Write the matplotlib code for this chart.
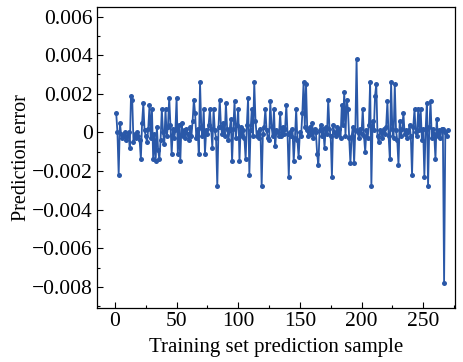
import matplotlib
matplotlib.use("Agg")
import matplotlib.pyplot as plt
from matplotlib.ticker import MultipleLocator, FuncFormatter

# Ошибка прогноза на обучающей выборке
errors = [
    0.0010, 0.0000, -0.0022, 0.0005, -0.0001, -0.0003, -0.0002, 0.0000, -0.0004, -0.0002,
    0.0000, -0.0008, 0.0019, 0.0017, -0.0005, -0.0001, -0.0003, 0.0000, -0.0002, -0.0004,
    -0.0014, 0.0005, 0.0015, 0.0001, -0.0002, -0.0005, 0.0002, 0.0014, -0.0003, 0.0012,
    -0.0014, -0.0001, -0.0015, 0.0003, -0.0009, -0.0014, -0.0004, 0.0012, 0.0000, -0.0006,
    0.0012, -0.0002, 0.0003, 0.0018, 0.0004, -0.0011, 0.0002, -0.0003, 0.0001, 0.0018,
    -0.0011, 0.0004, -0.0015, 0.0005, -0.0002, 0.0001, -0.0003, 0.0002, -0.0001, -0.0004,
    0.0003, -0.0002, 0.0006, 0.0017, 0.0010, -0.0003, 0.0002, -0.0011, 0.0026, 0.0003,
    -0.0002, 0.0012, -0.0011, 0.0001, -0.0001, 0.0004, 0.0012, 0.0002, -0.0008, 0.0012,
    0.0001, -0.0003, -0.0028, 0.0003, 0.0017, 0.0003, -0.0001, 0.0005, -0.0002, 0.0015,
    0.0002, -0.0004, 0.0001, 0.0007, -0.0015, 0.0002, 0.0016, -0.0003, 0.0004, 0.0012,
    -0.0015, 0.0003, -0.0002, 0.0001, -0.0003, -0.0014, 0.0004, 0.0018, -0.0022, 0.0001,
    0.0012, -0.0002, 0.0026, 0.0006, -0.0002, 0.0000, -0.0003, 0.0002, -0.0028, -0.0001,
    0.0003, 0.0012, 0.0001, -0.0003, -0.0004, 0.0016, 0.0003, -0.0002, 0.0012, -0.0007,
    0.0001, 0.0000, -0.0002, 0.0010, -0.0002, 0.0003, -0.0001, 0.0002, 0.0014, -0.0001,
    -0.0023, 0.0000, -0.0002, 0.0002, -0.0015, -0.0003, 0.0012, -0.0004, -0.0013, 0.0000,
    -0.0002, 0.0010, 0.0026, 0.0003, 0.0025, 0.0001, -0.0002, 0.0003, -0.0001, 0.0005,
    -0.0003, 0.0002, 0.0000, -0.0011, -0.0017, 0.0001, 0.0004, -0.0002, 0.0002, -0.0008,
    0.0003, -0.0001, 0.0017, 0.0002, -0.0002, -0.0023, 0.0004, 0.0000, -0.0002, 0.0003,
    -0.0001, 0.0002, -0.0003, 0.0014, 0.0004, 0.0021, -0.0002, 0.0017, 0.0012, -0.0003,
    -0.0016, -0.0002, 0.0003, -0.0016, 0.0001, 0.0038, 0.0000, -0.0003, 0.0002, -0.0001,
    0.0012, -0.0002, -0.0010, 0.0001, -0.0003, 0.0004, 0.0026, -0.0028, 0.0006, 0.0001,
    0.0019, 0.0025, -0.0002, -0.0005, 0.0001, 0.0000, -0.0003, 0.0002, -0.0001, 0.0003,
    0.0016, -0.0002, -0.0014, 0.0026, 0.0002, -0.0003, 0.0025, 0.0001, -0.0004, -0.0017,
    0.0006, -0.0002, 0.0002, 0.0010, -0.0001, 0.0001, -0.0003, 0.0000, 0.0004, -0.0002,
    -0.0022, 0.0003, 0.0012, 0.0000, -0.0002, 0.0012, 0.0001, 0.0012, -0.0004, 0.0002,
    -0.0023, 0.0001, 0.0015, -0.0028, 0.0003, 0.0016, -0.0003, 0.0002, -0.0001, -0.0014,
    0.0007, -0.0002, 0.0001, -0.0003, 0.0002, 0.0002, -0.0078, 0.0000, -0.0002, 0.0001,
]
samples = list(range(1, len(errors) + 1))

plt.rcParams['font.family'] = ['Liberation Serif', 'DejaVu Serif']

fig = plt.figure(figsize=(4.64, 3.62), dpi=100)
ax = fig.add_axes([0.209, 0.149, 0.772, 0.832])

ax.plot(samples, errors, '-o', color='#2a58a8', linewidth=1.3,
        markersize=3.6, markeredgewidth=0)

ax.set_xlim(-14.6, 276)
ax.set_ylim(-0.0091, 0.0065)
ax.xaxis.set_major_locator(MultipleLocator(50))
ax.xaxis.set_minor_locator(MultipleLocator(25))
ax.yaxis.set_major_locator(MultipleLocator(0.002))
ax.yaxis.set_minor_locator(MultipleLocator(0.001))


def fmt(v, pos):
    if abs(v) < 1e-12:
        return '0'
    return '{:.3f}'.format(v).replace('-', '\u2212')


ax.yaxis.set_major_formatter(FuncFormatter(fmt))
ax.tick_params(which='both', direction='in', top=False, right=False,
               labelsize=15.5, width=0.8)
ax.tick_params(which='major', length=4.5, pad=3)
ax.tick_params(which='minor', length=2.5)
for s in ax.spines.values():
    s.set_linewidth(0.9)

ax.set_xlabel('Training set prediction sample', fontsize=15, labelpad=5)
ax.set_ylabel('Prediction error', fontsize=14.5, labelpad=1)

fig.savefig('out.png', dpi=100)
